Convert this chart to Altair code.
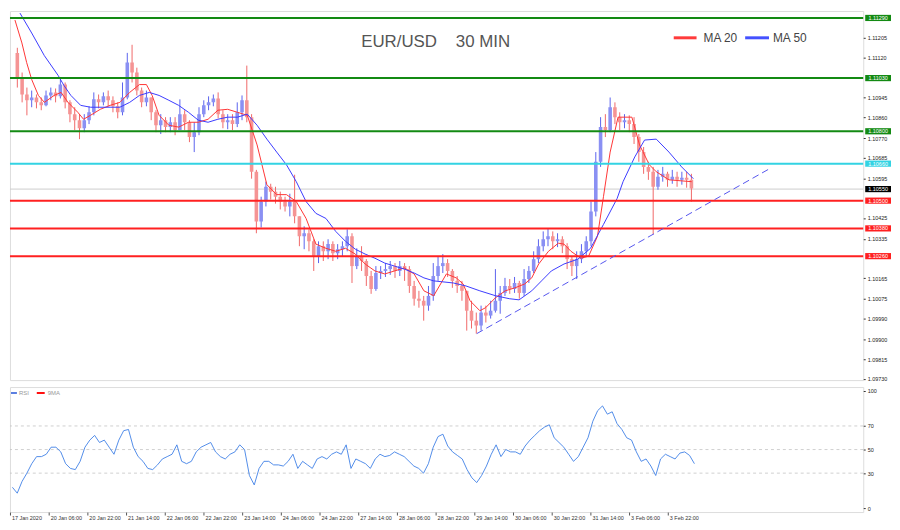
import json
import altair as alt
import pandas as pd

# ---------------- data ----------------
first_open = 1.11139
closes = [1.11032, 1.10959, 1.10934, 1.10946, 1.10925, 1.10912, 1.10955, 1.10968, 1.10951, 1.11002,
          1.10925, 1.10874, 1.10848, 1.10813, 1.10848, 1.10882, 1.10938, 1.10925, 1.10951, 1.10934,
          1.10908, 1.10882, 1.10946, 1.11097, 1.11054, 1.10976, 1.10925, 1.10946, 1.10882, 1.10826,
          1.10848, 1.10818, 1.10839, 1.10805, 1.10874, 1.10839, 1.10775, 1.10796, 1.10874, 1.10912,
          1.10925, 1.10942, 1.10874, 1.10839, 1.10848, 1.10831, 1.10882, 1.10934, 1.10861, 1.10625,
          1.10410, 1.10496, 1.10560, 1.10539, 1.10517, 1.10496, 1.10475, 1.10496, 1.10432, 1.10346,
          1.10359, 1.10324, 1.10260, 1.10303, 1.10281, 1.10312, 1.10273, 1.10290, 1.10303, 1.10346,
          1.10217, 1.10260, 1.10239, 1.10174, 1.10118, 1.10187, 1.10196, 1.10204, 1.10217, 1.10196,
          1.10217, 1.10204, 1.10131, 1.10076, 1.10067, 1.10046, 1.10088, 1.10174, 1.10217, 1.10230,
          1.10196, 1.10153, 1.10131, 1.10110, 1.10024, 1.09981, 1.09960, 1.10016, 1.10003, 1.10024,
          1.10067, 1.10101, 1.10131, 1.10118, 1.10144, 1.10101, 1.10161, 1.10196, 1.10247, 1.10303,
          1.10333, 1.10346, 1.10324, 1.10333, 1.10303, 1.10247, 1.10217, 1.10247, 1.10281, 1.10324,
          1.10453, 1.10668, 1.10818, 1.10805, 1.10904, 1.10861, 1.10839, 1.10848, 1.10831, 1.10775,
          1.10710, 1.10646, 1.10625, 1.10560, 1.10603, 1.10616, 1.10590, 1.10603, 1.10590, 1.10599,
          1.10590, 1.10552]
highs = [1.11161, 1.11054, 1.10989, 1.10976, 1.10959, 1.10946, 1.10976, 1.10989, 1.10985, 1.11028,
         1.11011, 1.10934, 1.10904, 1.10874, 1.10874, 1.10908, 1.10968, 1.10959, 1.10968, 1.10976,
         1.10951, 1.10925, 1.11011, 1.11139, 1.11174, 1.11075, 1.10989, 1.10976, 1.10946, 1.10891,
         1.10874, 1.10861, 1.10861, 1.10861, 1.10938, 1.10891, 1.10848, 1.10839, 1.10904, 1.10934,
         1.10951, 1.10959, 1.10968, 1.10891, 1.10874, 1.10874, 1.10925, 1.10955, 1.11084, 1.10874,
         1.10633, 1.10517, 1.10582, 1.10573, 1.10560, 1.10539, 1.10517, 1.10530, 1.10612, 1.10432,
         1.10389, 1.10376, 1.10333, 1.10324, 1.10324, 1.10333, 1.10324, 1.10312, 1.10324, 1.10376,
         1.10359, 1.10294, 1.10303, 1.10247, 1.10196, 1.10217, 1.10217, 1.10230, 1.10239, 1.10230,
         1.10239, 1.10230, 1.10217, 1.10153, 1.10110, 1.10088, 1.10131, 1.10230, 1.10260, 1.10269,
         1.10247, 1.10204, 1.10174, 1.10153, 1.10110, 1.10067, 1.10016, 1.10046, 1.10046, 1.10067,
         1.10204, 1.10131, 1.10166, 1.10161, 1.10170, 1.10153, 1.10204, 1.10217, 1.10281, 1.10333,
         1.10367, 1.10380, 1.10367, 1.10359, 1.10346, 1.10316, 1.10260, 1.10281, 1.10312, 1.10346,
         1.10496, 1.10710, 1.10861, 1.10874, 1.10946, 1.10925, 1.10882, 1.10874, 1.10869, 1.10861,
         1.10788, 1.10732, 1.10668, 1.10646, 1.10633, 1.10646, 1.10625, 1.10633, 1.10625, 1.10625,
         1.10625, 1.10616]
lows = [1.10989, 1.10925, 1.10869, 1.10904, 1.10899, 1.10891, 1.10908, 1.10934, 1.10925, 1.10942,
        1.10899, 1.10839, 1.10805, 1.10766, 1.10796, 1.10831, 1.10869, 1.10899, 1.10912, 1.10908,
        1.10882, 1.10856, 1.10869, 1.10938, 1.11011, 1.10955, 1.10904, 1.10908, 1.10848, 1.10796,
        1.10788, 1.10796, 1.10796, 1.10783, 1.10805, 1.10805, 1.10753, 1.10710, 1.10783, 1.10861,
        1.10891, 1.10908, 1.10856, 1.10813, 1.10809, 1.10805, 1.10818, 1.10848, 1.10839, 1.10595,
        1.10359, 1.10384, 1.10475, 1.10505, 1.10487, 1.10462, 1.10453, 1.10432, 1.10402, 1.10303,
        1.10290, 1.10281, 1.10196, 1.10230, 1.10239, 1.10247, 1.10239, 1.10247, 1.10260, 1.10281,
        1.10144, 1.10204, 1.10196, 1.10131, 1.10097, 1.10110, 1.10161, 1.10170, 1.10179, 1.10166,
        1.10174, 1.10153, 1.10101, 1.10046, 1.10037, 1.09981, 1.10024, 1.10067, 1.10153, 1.10187,
        1.10170, 1.10123, 1.10101, 1.10067, 1.09938, 1.09947, 1.09925, 1.09938, 1.09973, 1.09990,
        1.10016, 1.10011, 1.10088, 1.10097, 1.10101, 1.10076, 1.10088, 1.10144, 1.10187, 1.10230,
        1.10281, 1.10303, 1.10290, 1.10299, 1.10273, 1.10204, 1.10174, 1.10161, 1.10230, 1.10260,
        1.10303, 1.10432, 1.10646, 1.10775, 1.10796, 1.10831, 1.10805, 1.10813, 1.10796, 1.10745,
        1.10668, 1.10616, 1.10590, 1.10354, 1.10547, 1.10582, 1.10560, 1.10573, 1.10560, 1.10569,
        1.10556, 1.10496]

rsi = [18, 13, 23, 30, 38, 44, 44, 46, 52, 52,
       48, 38, 34, 33, 40, 52, 58, 62, 56, 58,
       52, 46, 58, 66, 67, 52, 44, 40, 34, 33,
       37, 42, 44, 46, 54, 40, 38, 40, 48, 52,
       54, 56, 48, 44, 42, 46, 48, 54, 50, 28,
       20, 34, 40, 40, 37, 37, 36, 40, 46, 34,
       40, 37, 34, 42, 44, 42, 46, 48, 46, 54,
       34, 42, 40, 38, 34, 42, 46, 44, 45, 48,
       46, 44, 40, 36, 34, 30, 38, 52, 61, 63,
       53, 48, 45, 42, 33, 26, 22, 28, 36, 46,
       54, 44, 50, 48, 48, 46, 53, 58, 62, 66,
       69, 71, 60, 56, 52, 46, 40, 44, 52, 60,
       74, 83, 87, 80, 82, 72, 67, 60, 58, 48,
       40, 42, 36, 28, 42, 46, 44, 42, 47, 48,
       45, 38]

# moving averages (hours since first bar, price)
ma20_t = [0, 2.9, 4.9, 7.0, 9.8, 12.3, 16.4, 19.3, 22.2, 26.3, 28.7, 31.6, 35.7, 39.8, 43.9,
          48.0, 52.1, 55.0, 57.4, 60.3, 64.4, 68.5, 72.6, 76.7, 80.8, 84.9, 89.0, 93.1, 97.2,
          101.3, 105.4, 109.5, 113.6, 117.7, 121.8, 125.9, 130.1, 134.2, 138.3, 142.4, 146.5,
          150.6, 154.7, 158.8, 162.9, 167.0, 171.1, 175.2, 180.5, 184.6, 187.5, 190.4, 194.5,
          196.9, 201.0, 205.1, 209.2, 213.3, 216.2, 219.1, 223.2, 227.3, 229.7, 232.6, 236.7,
          240.0, 243.7, 246.2, 249.0, 252.3, 258.1, 261.3, 265.4, 268.3, 273.6, 283.1]
ma20_v = [1.11281, 1.11182, 1.11097, 1.11024, 1.10955, 1.10925, 1.10955, 1.10968, 1.10925, 1.10882,
          1.10852, 1.10869, 1.10895, 1.10912, 1.10925, 1.10968, 1.11002, 1.11002, 1.10955, 1.10869,
          1.10826, 1.10818, 1.10839, 1.10839, 1.10852, 1.10891, 1.10895, 1.10882, 1.10869, 1.10741,
          1.10569, 1.10526, 1.10526, 1.10496, 1.10423, 1.10312, 1.10294, 1.10281, 1.10294, 1.10269,
          1.10226, 1.10196, 1.10183, 1.10196, 1.10209, 1.10183, 1.10110, 1.10089, 1.10183, 1.10166,
          1.10140, 1.10067, 1.10024, 1.10037, 1.10080, 1.10110, 1.10123, 1.10140, 1.10166, 1.10226,
          1.10281, 1.10316, 1.10312, 1.10281, 1.10251, 1.10260, 1.10346, 1.10517, 1.10710, 1.10861,
          1.10861, 1.10741, 1.10655, 1.10625, 1.10590, 1.10582]
ma50_t = [2.1, 7.0, 12.3, 18.1, 20.5, 23.4, 27.5, 31.6, 39.8, 43.9, 48.0, 52.1, 56.2, 60.3, 64.4,
          68.5, 72.6, 76.7, 80.8, 84.9, 89.0, 93.1, 97.2, 101.3, 105.4, 109.5, 113.6, 117.7, 121.8,
          125.9, 130.1, 134.2, 138.3, 142.4, 146.5, 150.6, 154.7, 158.8, 162.9, 167.0, 171.1,
          175.2, 183.4, 188.7, 194.5, 201.0, 206.8, 210.9, 216.2, 220.3, 224.4, 229.7, 235.5,
          240.8, 246.2, 251.9, 254.4, 259.3, 263.4, 268.3, 273.6, 278.9, 283.8]
ma50_v = [1.11311, 1.11225, 1.11127, 1.11041, 1.10998, 1.10955, 1.10912, 1.10904, 1.10904, 1.10904,
          1.10925, 1.10955, 1.10968, 1.10955, 1.10934, 1.10912, 1.10882, 1.10848, 1.10839, 1.10852,
          1.10861, 1.10861, 1.10874, 1.10826, 1.10766, 1.10710, 1.10655, 1.10582, 1.10496, 1.10445,
          1.10423, 1.10367, 1.10324, 1.10290, 1.10269, 1.10251, 1.10230, 1.10217, 1.10204, 1.10187,
          1.10166, 1.10153, 1.10144, 1.10131, 1.10110, 1.10089, 1.10076, 1.10071, 1.10110, 1.10153,
          1.10196, 1.10226, 1.10247, 1.10294, 1.10397, 1.10509, 1.10582, 1.10689, 1.10762, 1.10766,
          1.10710, 1.10646, 1.10595]

trend_t = [193.2, 315.5]
trend_v = [1.09925, 1.10637]

green_levels = [1.11290, 1.11030, 1.10800]
cyan_levels = [1.10660]
red_levels = [1.10500, 1.10380, 1.10260]
last_price = 1.10550

# tick labels that are not hidden behind the level boxes
price_ticks = [1.09730, 1.09815, 1.09900, 1.09990, 1.10075, 1.10165, 1.10335, 1.10425,
               1.10595, 1.10685, 1.10770, 1.10860, 1.10945, 1.11120, 1.11205]
rsi_ticks = [0, 30, 50, 70, 100]
rsi_grid = [30, 50, 70]
x_labels = ["17 Jan 2020", "20 Jan 06:00", "20 Jan 22:00", "21 Jan 14:00", "22 Jan 06:00",
            "22 Jan 22:00", "23 Jan 14:00", "24 Jan 06:00", "24 Jan 22:00", "27 Jan 14:00",
            "28 Jan 06:00", "28 Jan 22:00", "29 Jan 14:00", "30 Jan 06:00", "30 Jan 22:00",
            "31 Jan 14:00", "3 Feb 06:00", "3 Feb 22:00"]
title_text = "EUR/USD\u00a0\u00a0\u00a0\u00a030 MIN"

# ---------------- tables ----------------
n = len(closes)
opens = [first_open] + closes[:-1]
candles = pd.DataFrame({"t": [2 * i + 1 for i in range(n)], "o": opens, "h": highs,
                        "l": lows, "c": closes})
rsi_df = pd.DataFrame({"t": [2 * i + 1 for i in range(n)], "v": rsi})
ma20 = pd.DataFrame({"t": ma20_t, "p": ma20_v})
ma50 = pd.DataFrame({"t": ma50_t, "p": ma50_v})
trend = pd.DataFrame({"t": trend_t, "p": trend_v})

GREEN, CYAN, RED = "#138a13", "#33d3e3", "#ff2020"
levels = pd.DataFrame({"p": green_levels + cyan_levels + red_levels,
                       "col": [GREEN] * 3 + [CYAN] + [RED] * 3})
box_vals = green_levels + cyan_levels + [last_price] + red_levels
boxes_df = pd.DataFrame({"p": box_vals,
                         "col": [GREEN] * 3 + [CYAN] + ["#000000"] + [RED] * 3,
                         "lab": [f"{v:.5f}" for v in box_vals]})
one = pd.DataFrame({"k": [0]})

# ---------------- geometry ----------------
W, PH, RH = 860, 372, 126
x_scale = alt.Scale(domain=[0, 352.8], nice=False, zero=False)
y_scale = alt.Scale(domain=[1.09724, 1.11320], nice=False, zero=False)
r_scale = alt.Scale(domain=[-3, 103], nice=False, zero=False)
FONT = "Liberation Sans"

price_axis = alt.Axis(orient="right", values=price_ticks, format=".5f", title=None, grid=False,
                      domain=False, tickSize=2, labelFontSize=5.5, labelPadding=2,
                      labelColor="#222", tickColor="#333", labelFont=FONT)


def X(f):
    return alt.X(f, type="quantitative", scale=x_scale, axis=None)


def Y(f):
    return alt.Y(f, type="quantitative", scale=y_scale, axis=price_axis)


up = "datum.c >= datum.o"
wick = alt.Chart(candles).mark_rule(strokeWidth=1, clip=True).encode(
    x=X("t"), y=Y("l"), y2="h:Q",
    color=alt.condition(up, alt.value("#5a62ee"), alt.value("#f06868")))
body = alt.Chart(candles).mark_bar(size=3.6, clip=True).encode(
    x=X("t"), y=Y("o"), y2="c:Q",
    color=alt.condition(up, alt.value("#8a90f3"), alt.value("#f59494")))

cur_line = alt.Chart(pd.DataFrame({"p": [last_price]})).mark_rule(
    color="#cccccc", strokeWidth=1).encode(y=Y("p"))
ma20_line = alt.Chart(ma20).mark_line(color="#ff3535", strokeWidth=1, clip=True).encode(
    x=X("t"), y=Y("p"))
ma50_line = alt.Chart(ma50).mark_line(color="#3b3bff", strokeWidth=1, clip=True).encode(
    x=X("t"), y=Y("p"))
level_rules = alt.Chart(levels).mark_rule(strokeWidth=2).encode(
    y=Y("p"), color=alt.Color("col:N", scale=None))
trend_line = alt.Chart(trend).mark_line(color="#5555ee", strokeWidth=1, strokeDash=[7, 4],
                                        clip=True).encode(x=X("t"), y=Y("p"))

box_marks = alt.Chart(boxes_df).mark_point(
    shape="M-1,-0.24L1,-0.24L1,0.24L-1,0.24Z", size=676, filled=True, opacity=1,
    strokeWidth=0).encode(x=alt.value(W + 15), y=Y("p"), color=alt.Color("col:N", scale=None))
box_text = alt.Chart(boxes_df).mark_text(fontSize=5.5, color="white", font=FONT,
                                         align="center", baseline="middle").encode(
    x=alt.value(W + 15), y=Y("p"), text="lab:N")

title = alt.Chart(pd.DataFrame({"s": [title_text]})).mark_text(
    fontSize=17, font=FONT, color="#555555", align="center", baseline="middle").encode(
    x=alt.value(429), y=alt.value(31), text="s:N")
leg_red = alt.Chart(one).mark_rule(color="#ff3b3b", strokeWidth=3).encode(
    x=alt.value(669), x2=alt.value(692), y=alt.value(27))
leg_red_t = alt.Chart(pd.DataFrame({"s": ["MA 20"]})).mark_text(
    fontSize=12, font=FONT, color="#444444", align="left", baseline="middle").encode(
    x=alt.value(699), y=alt.value(27), text="s:N")
leg_blue = alt.Chart(one).mark_rule(color="#4451ff", strokeWidth=3).encode(
    x=alt.value(741), x2=alt.value(765), y=alt.value(27))
leg_blue_t = alt.Chart(pd.DataFrame({"s": ["MA 50"]})).mark_text(
    fontSize=12, font=FONT, color="#444444", align="left", baseline="middle").encode(
    x=alt.value(769), y=alt.value(27), text="s:N")

price = alt.layer(cur_line, wick, body, ma20_line, ma50_line, level_rules, trend_line,
                  box_marks, box_text, title, leg_red, leg_red_t, leg_blue, leg_blue_t
                  ).properties(width=W, height=PH)

# ---------------- RSI panel ----------------
label_expr = json.dumps(x_labels) + "[round(datum.value / 16)]"
x_axis = alt.Axis(values=list(range(0, 16 * len(x_labels), 16)), labelExpr=label_expr,
                  orient="bottom", grid=False, domain=False, tickSize=3, labelAlign="left",
                  labelPadding=1, labelOffset=1.5, labelFontSize=5.5, labelColor="#333",
                  tickColor="#555", labelFlush=False, labelOverlap=False, labelBound=False,
                  title=None, labelFont=FONT)
r_axis = alt.Axis(orient="right", values=rsi_ticks, title=None, grid=False, domain=False,
                  tickSize=2, labelFontSize=5.5, labelPadding=2, labelColor="#222",
                  tickColor="#333", labelFont=FONT)

rsi_grid_rules = alt.Chart(pd.DataFrame({"g": rsi_grid})).mark_rule(
    color="#c4c4c4", strokeDash=[3, 3], strokeWidth=0.8).encode(
    y=alt.Y("g:Q", scale=r_scale, axis=r_axis))
rsi_line = alt.Chart(rsi_df).mark_line(color="#3f80e6", strokeWidth=0.9, clip=True).encode(
    x=alt.X("t:Q", scale=x_scale, axis=x_axis),
    y=alt.Y("v:Q", scale=r_scale, axis=r_axis))
rl1 = alt.Chart(one).mark_rule(color="#5b7fe0", strokeWidth=2).encode(
    x=alt.value(1), x2=alt.value(7), y=alt.value(6))
rt1 = alt.Chart(pd.DataFrame({"s": ["RSI"]})).mark_text(
    fontSize=6, font=FONT, color="#999999", align="left", baseline="middle").encode(
    x=alt.value(9), y=alt.value(6), text="s:N")
rl2 = alt.Chart(one).mark_rule(color="#ff1010", strokeWidth=2).encode(
    x=alt.value(27), x2=alt.value(35), y=alt.value(6))
rt2 = alt.Chart(pd.DataFrame({"s": ["9MA"]})).mark_text(
    fontSize=6, font=FONT, color="#999999", align="left", baseline="middle").encode(
    x=alt.value(38), y=alt.value(6), text="s:N")

rsi_panel = alt.layer(rsi_grid_rules, rsi_line, rl1, rt1, rl2, rt2).properties(
    width=W, height=RH)

chart = alt.vconcat(price, rsi_panel, spacing=3).properties(
    padding={"left": 0, "top": 0, "right": 0, "bottom": 0}
).configure_view(stroke="#555555", strokeWidth=1).configure(background="white")

chart.save("out.html", embed_options={"renderer": "svg", "actions": False})
